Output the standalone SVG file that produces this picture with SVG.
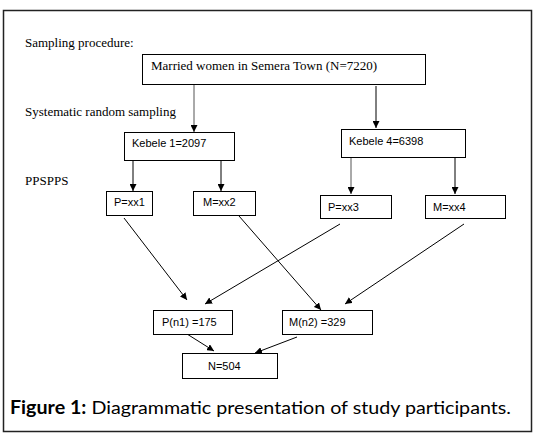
<svg xmlns="http://www.w3.org/2000/svg" width="539" height="436" viewBox="0 0 539 436">
<defs>
<style>
.box{fill:#fff;stroke:#000;stroke-width:1}
.serif{font-family:"Liberation Serif","Times New Roman",serif;font-size:13px;fill:#000}
.sans{font-family:"Liberation Sans",Arial,sans-serif;font-size:11px;fill:#000}
.ln{stroke:#000;stroke-width:1;fill:none;marker-end:url(#ah)}
.lg{stroke:#555;stroke-width:1;fill:none;marker-end:url(#ah)}
.cap{font-family:Lato,"Open Sans",sans-serif;font-size:18px;fill:#000}
</style>
<marker id="ah" viewBox="0 0 10 10" refX="10" refY="5" markerWidth="7" markerHeight="7" markerUnits="userSpaceOnUse" orient="auto">
<path d="M0,0 L10,5 L0,10 z" fill="#000"/>
</marker>
</defs>
<rect x="0" y="0" width="539" height="436" fill="#fff"/>
<rect x="3.5" y="10.5" width="528" height="421" fill="none" stroke="#222" stroke-width="1.5"/>

<g id="labels">
<text class="serif" x="25" y="47">Sampling procedure:</text>
<text class="serif" x="25" y="116">Systematic random sampling</text>
<text class="serif" x="25" y="185">PPSPPS</text>
</g>

<g id="connectors">
<line class="lg" x1="194" y1="84" x2="194" y2="132"/>
<line class="ln" x1="376" y1="86" x2="376" y2="128"/>
<line class="ln" x1="133" y1="160" x2="133" y2="191"/>
<line class="ln" x1="221" y1="160" x2="221" y2="191"/>
<line class="lg" x1="351" y1="157" x2="351" y2="194"/>
<line class="ln" x1="455" y1="157" x2="455" y2="194"/>
<line class="ln" x1="124" y1="218" x2="187" y2="300"/>
<line class="ln" x1="239" y1="216" x2="321" y2="310"/>
<line class="ln" x1="340" y1="224" x2="205" y2="304"/>
<line class="ln" x1="464" y1="224" x2="345" y2="304"/>
<line class="ln" x1="187" y1="334" x2="214" y2="351"/>
<line class="ln" x1="297" y1="337" x2="255" y2="353"/>
</g>

<g id="n-married">
<rect class="box" x="142.5" y="54.5" width="283" height="30"/>
<text class="serif" x="151" y="70">Married women in Semera Town (N=7220)</text>
</g>
<g id="n-kebele1">
<rect class="box" x="124.5" y="132.5" width="110" height="28"/>
<text class="sans" x="132" y="147">Kebele 1=2097</text>
</g>
<g id="n-kebele4">
<rect class="box" x="341.5" y="129.5" width="124" height="28"/>
<text class="sans" x="349" y="145">Kebele 4=6398</text>
</g>
<g id="n-pxx1">
<rect class="box" x="106.5" y="191.5" width="46" height="24"/>
<text class="sans" x="114" y="206">P=xx1</text>
</g>
<g id="n-mxx2">
<rect class="box" x="193.5" y="191.5" width="62" height="24"/>
<text class="sans" x="203" y="206">M=xx2</text>
</g>
<g id="n-pxx3">
<rect class="box" x="320.5" y="195.5" width="71" height="23"/>
<text class="sans" x="328" y="211">P=xx3</text>
</g>
<g id="n-mxx4">
<rect class="box" x="425.5" y="195.5" width="80" height="23"/>
<text class="sans" x="433" y="211">M=xx4</text>
</g>
<g id="n-pn1">
<rect class="box" x="153.5" y="310.5" width="79" height="24"/>
<text class="sans" x="162" y="326">P(n1) =175</text>
</g>
<g id="n-mn2">
<rect class="box" x="282.5" y="310.5" width="90" height="24"/>
<text class="sans" x="289" y="326">M(n2) =329</text>
</g>
<g id="n-total">
<rect class="box" x="182.5" y="353.5" width="95" height="25"/>
<text class="sans" x="208" y="370">N=504</text>
</g>

<g id="caption">
<text class="cap" x="10" y="414" textLength="501" lengthAdjust="spacingAndGlyphs"><tspan font-weight="bold">Figure 1:</tspan> Diagrammatic presentation of study participants.</text>
</g>
</svg>
